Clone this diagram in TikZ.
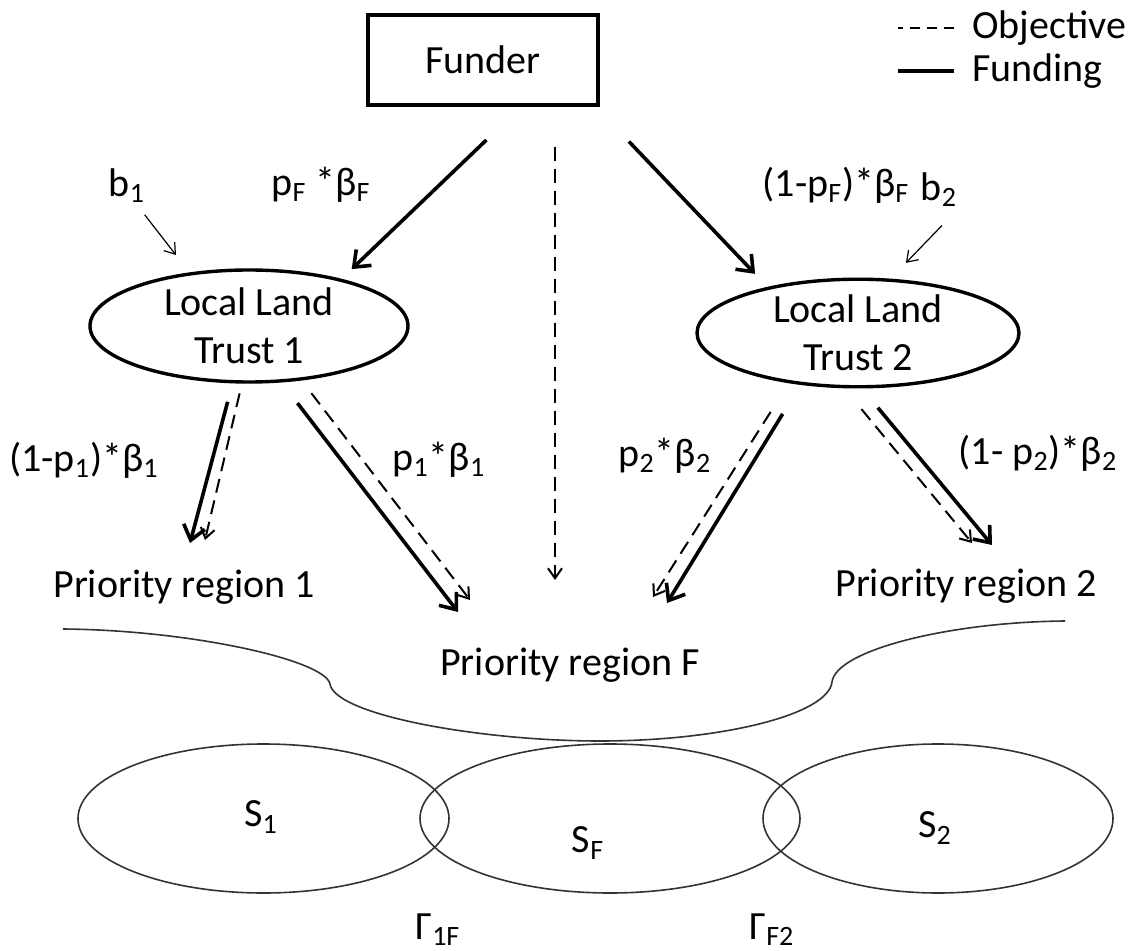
\documentclass[tikz,border=0pt]{standalone}
\usepackage{fontspec}
\setmainfont{Carlito}
\usetikzlibrary{positioning,shapes.geometric,arrows.meta}

\begin{document}
\begin{tikzpicture}[x=0.5pt,y=-0.5pt,
  every node/.style={font=\fontsize{20}{24}\selectfont},
  fund/.style={-{Straight Barb[length=7pt,width=11pt]},line width=1.8pt},
  obj/.style={-{Straight Barb[length=5pt,width=7pt]},line width=1pt,dash pattern=on 7pt off 4pt},
  hint/.style={-{Straight Barb[length=5pt,width=7pt]},line width=0.6pt},
  trust/.style={ellipse,draw,line width=1.7pt,inner sep=0pt,align=center},
  setreg/.style={ellipse,draw=black!80,line width=0.8pt,inner sep=0pt,minimum height=74.5pt}]
\useasboundingbox (0,0) rectangle (1134,951);

% legend
\node[anchor=west,inner sep=0pt] (objtxt) at (972,28) {Objective};
\node[anchor=west,inner sep=0pt] (fundtxt) at (972,71) {Funding};
\draw[line width=1pt,dash pattern=on 5pt off 3.5pt] ([xshift=-9pt]objtxt.west) -- ++(-56,0);
\draw[line width=1.7pt] ([xshift=-9pt]fundtxt.west) -- ++(-56,0);

% funder and the two trusts
\node[draw,line width=1.8pt,minimum width=115pt,minimum height=45pt] (funder) at (483,60) {Funder};
\node[trust,minimum width=159pt,minimum height=56pt] (llt1) at (249,326) {Local Land\\Trust 1};
\node[trust,minimum width=161pt,minimum height=53pt] (llt2) at (858,333) {Local Land\\Trust 2};

\node (b1) at (127,186) {b\textsubscript{1}};
\node (b2) at (939,190) {b\textsubscript{2}};
\draw[hint,shorten <=3pt,shorten >=11pt] ([xshift=7pt]b1.south) -- (llt1.138);
\draw[hint,shorten <=8pt,shorten >=11pt] ([xshift=7pt]b2.south) -- (llt2.59);

\draw[fund,shorten <=24pt,shorten >=7pt] ([xshift=19pt]funder.south) -- (llt1.27);
\draw[fund,shorten <=24pt,shorten >=9pt] ([xshift=-2pt]funder.south east) -- (llt2.153);
\node (lpf) at (321,185) {p\textsubscript{F} *β\textsubscript{F}};
\node (lpf2) at (836,185) {(1-p\textsubscript{F})*β\textsubscript{F}};

% objective of the funder
\coordinate (fobj) at (555,580);
\draw[obj,shorten <=20pt] ([xshift=36pt]funder.south) -- (fobj);

% funding and objectives of the trusts
\coordinate (pr1a) at (190,543);
\coordinate (pr1b) at (205,540);
\coordinate (prFa) at (458,612);
\coordinate (prFb) at (470,600);
\coordinate (prFc) at (653,597);
\coordinate (prFd) at (667,603);
\coordinate (pr2a) at (972,543);
\coordinate (pr2b) at (992,545);
\draw[fund,shorten <=9.5pt] (llt1.-106) -- (pr1a);
\draw[obj,shorten <=5pt] (llt1.-97) -- (pr1b);
\draw[fund,shorten <=13pt] (llt1.-60) -- (prFa);
\draw[obj,shorten <=8pt] (llt1.-46) -- (prFb);
\draw[obj,shorten <=17pt] (llt2.-144.5) -- (prFc);
\draw[fund,shorten <=17pt] (llt2.-138) -- (prFd);
\draw[obj,shorten <=13.5pt] (llt2.-104) -- (pr2a);
\draw[fund,shorten <=12.5pt] (llt2.-86) -- (pr2b);

\node (lp1c) at (84,460) {(1-p\textsubscript{1})*β\textsubscript{1}};
\node (lp1) at (439,460) {p\textsubscript{1}*β\textsubscript{1}};
\node (lp2) at (665,456) {p\textsubscript{2}*β\textsubscript{2}};
\node (lp2c) at (1038,453) {(1- p\textsubscript{2})*β\textsubscript{2}};
\node (pr1) at (184,587) {Priority region 1};
\node (pr2) at (966,586) {Priority region 2};

% priority region F
\draw[black!80,line width=0.8pt] (63,629) .. controls (190,630) and (325,660) .. (330,684)
  .. controls (335,715) and (480,741) .. (600,741)
  .. controls (720,741) and (828,715) .. (832,682)
  .. controls (836,650) and (950,622) .. (1065,621);
\node (prF) at (570,665) {Priority region F};

% sets
\node[setreg,minimum width=185.5pt] (s1) at (263.5,818.5) {};
\node[setreg,minimum width=190pt] (sf) at (610,818.5) {};
\node[setreg,minimum width=175pt] (s2) at (938,818.5) {};
\node at (261,817) {S\textsubscript{1}};
\node at (588,843) {S\textsubscript{F}};
\node at (935,828) {S\textsubscript{2}};
\node (g1f) at (438,930) {Γ\textsubscript{1F}};
\node (gf2) at (772,930) {Γ\textsubscript{F2}};
\end{tikzpicture}
\end{document}
